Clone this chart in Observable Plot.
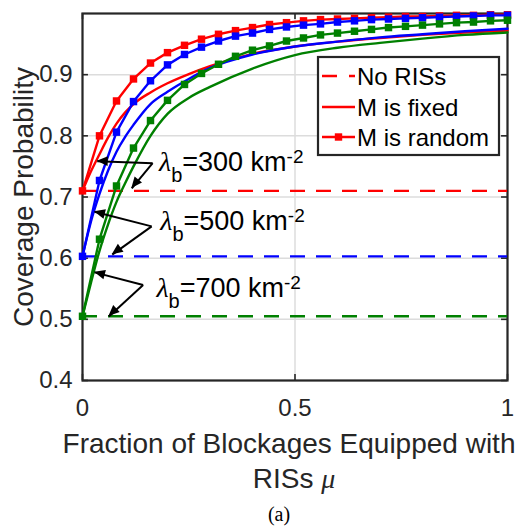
<!DOCTYPE html>
<html><head><meta charset="utf-8">
<script src="https://cdn.jsdelivr.net/npm/d3@7"></script>
<script src="https://cdn.jsdelivr.net/npm/@observablehq/plot@0.6"></script>
<style>body{margin:0;background:#fff}</style>
</head><body><div id="chart"></div>
<script>
// ---- data ----
const lambdas = ["300", "500", "700"];
const colors = ["#ff0000", "#0000ff", "#008000"];
const noRIS = [0.710, 0.603, 0.505];

const muRandom = [0, 0.04, 0.08, 0.12, 0.16, 0.20, 0.24, 0.28, 0.32, 0.36, 0.40, 0.44, 0.48,
  0.52, 0.56, 0.60, 0.64, 0.68, 0.72, 0.76, 0.80, 0.84, 0.88, 0.92, 0.96, 1.00];
const covRandom300 = [0.710, 0.800, 0.857, 0.893, 0.919, 0.936, 0.948, 0.958, 0.966, 0.972, 0.977, 0.982, 0.985,
  0.988, 0.990, 0.991, 0.992, 0.993, 0.994, 0.995, 0.995, 0.996, 0.997, 0.997, 0.998, 0.998];
const covRandom500 = [0.603, 0.727, 0.806, 0.856, 0.890, 0.916, 0.933, 0.945, 0.955, 0.963, 0.968, 0.974, 0.978,
  0.981, 0.983, 0.986, 0.988, 0.990, 0.991, 0.992, 0.993, 0.994, 0.995, 0.996, 0.997, 0.997];
const covRandom700 = [0.505, 0.631, 0.718, 0.780, 0.825, 0.858, 0.884, 0.902, 0.917, 0.930, 0.940, 0.947, 0.955,
  0.960, 0.965, 0.968, 0.971, 0.974, 0.977, 0.979, 0.981, 0.983, 0.985, 0.986, 0.988, 0.989];

const muFixed = [0, 0.02, 0.04, 0.06, 0.08, 0.10, 0.12, 0.16, 0.20, 0.25, 0.30, 0.40, 0.50, 0.60, 0.70, 0.80, 0.90, 1.00];
const covFixed300 = [0.710, 0.742, 0.770, 0.797, 0.820, 0.838, 0.852, 0.871, 0.886, 0.901, 0.914, 0.934, 0.946, 0.954, 0.960, 0.965, 0.969, 0.972];
const covFixed500 = [0.603, 0.660, 0.705, 0.743, 0.774, 0.798, 0.818, 0.852, 0.872, 0.893, 0.911, 0.933, 0.946, 0.954, 0.961, 0.966, 0.971, 0.975];
const covFixed700 = [0.505, 0.560, 0.612, 0.655, 0.692, 0.722, 0.750, 0.800, 0.836, 0.862, 0.880, 0.910, 0.932, 0.944, 0.952, 0.959, 0.965, 0.969];

const xTicks = [0, 0.5, 1];
const yTicks = [0.4, 0.5, 0.6, 0.7, 0.8, 0.9];
const legendLabels = ["No RISs", "M is fixed", "M is random"];

// annotations (data units)
const annotTextX = [0.180, 0.183, 0.174];
const annotTextY = [0.7420, 0.6455, 0.5360];
const arrowFromX = [0.165, 0.1627, 0.1427];
const arrowFromY = [0.7552, 0.6520, 0.5560];
const arrowTip1X = [0.0347, 0.0283, 0.0283];
const arrowTip1Y = [0.7584, 0.6758, 0.5768];
const arrowTip2X = [0.1160, 0.0700, 0.0620];
const arrowTip2Y = [0.7140, 0.6057, 0.5047];

// ---- tables ----
const covRandom = [covRandom300, covRandom500, covRandom700];
const covFixed = [covFixed300, covFixed500, covFixed700];
const arrows = [];
lambdas.forEach((l, i) => {
  arrows.push({x1: arrowFromX[i], y1: arrowFromY[i], x2: arrowTip1X[i], y2: arrowTip1Y[i]});
  arrows.push({x1: arrowFromX[i], y1: arrowFromY[i], x2: arrowTip2X[i], y2: arrowTip2Y[i]});
});
const annots = lambdas.map((l, i) => ({x: annotTextX[i], y: annotTextY[i], label: "λ|b|=" + l + " km|-2"}));

const axisColor = "#262626";
const lw = 2.4;
const marks = [
  Plot.gridX(xTicks, {stroke: "#dcdcdc", strokeOpacity: 1, strokeWidth: 1.5}),
  Plot.gridY(yTicks, {stroke: "#dcdcdc", strokeOpacity: 1, strokeWidth: 1.5}),
  Plot.frame({stroke: axisColor, strokeWidth: 2.2}),
  Plot.ruleX(xTicks, {x: d => d, y1: 0.4, y2: 0.41, stroke: axisColor, strokeWidth: 1.6}),
  Plot.ruleX(xTicks, {x: d => d, y1: 1.0, y2: 0.99, stroke: axisColor, strokeWidth: 1.6}),
  Plot.ruleY(yTicks, {y: d => d, x1: 0, x2: 0.014, stroke: axisColor, strokeWidth: 1.6}),
  Plot.ruleY(yTicks, {y: d => d, x1: 1, x2: 0.986, stroke: axisColor, strokeWidth: 1.6}),
  Plot.axisX({ticks: xTicks, tickSize: 0, tickPadding: 18, fontSize: 24, tickFormat: d => String(d), label: null, fill: axisColor}),
  Plot.axisY({ticks: yTicks, tickSize: 0, tickPadding: 10, fontSize: 24, tickFormat: d => String(d), label: null, fill: axisColor})
];
lambdas.forEach((l, i) => {
  const rnd = muRandom.map((m, j) => ({mu: m, cov: covRandom[i][j]}));
  const fix = muFixed.map((m, j) => ({mu: m, cov: covFixed[i][j]}));
  marks.push(
    Plot.ruleY([noRIS[i]], {y: d => d, stroke: colors[i], strokeWidth: lw, strokeDasharray: "15,11"}),
    Plot.line(fix, {x: "mu", y: "cov", stroke: colors[i], strokeWidth: lw, curve: "monotone-x"}),
    Plot.line(rnd, {x: "mu", y: "cov", stroke: colors[i], strokeWidth: lw}),
    Plot.dot(rnd, {x: "mu", y: "cov", symbol: "square", r: 4.2, fill: colors[i], stroke: "none"})
  );
});
marks.push(
  Plot.link(arrows, {x1: "x1", y1: "y1", x2: "x2", y2: "y2", stroke: "black", strokeWidth: 2}),
  Plot.text(annots, {x: "x", y: "y", text: "label", textAnchor: "start", lineAnchor: "bottom", fontSize: 27, fill: "black"}),
  Plot.text(["Coverage Probability"], {frameAnchor: "left", rotate: -90, dx: -50, lineAnchor: "bottom", textAnchor: "middle", fontSize: 28, fill: axisColor}),
  Plot.text(["Fraction of Blockages Equipped with"], {frameAnchor: "bottom", dx: -6, dy: 72, lineAnchor: "bottom", fontSize: 28, fill: axisColor}),
  Plot.text(["RISs|μ"], {frameAnchor: "bottom", dx: -1, dy: 107, lineAnchor: "bottom", fontSize: 28, fill: axisColor}),
  Plot.text(["(a)"], {frameAnchor: "bottom", dx: -16, dy: 140, lineAnchor: "bottom", fontSize: 20, fill: "black", fontFamily: "Liberation Serif, Times New Roman, serif"})
);

const svg = Plot.plot({
  width: 526, height: 529,
  marginLeft: 82, marginRight: 19, marginTop: 13, marginBottom: 149,
  x: {domain: [0, 1]},
  y: {domain: [0.4, 1.0]},
  style: {fontFamily: "Liberation Sans, Arial, Helvetica, sans-serif", background: "white", color: axisColor, overflow: "visible"},
  marks
});
document.getElementById("chart").appendChild(svg);

// ---- filled arrow heads, positioned with the plot's own scales ----
const sx = svg.scale("x"), sy = svg.scale("y");
const hg = d3.select(svg).append("g");
arrows.forEach(a => {
  const X1 = sx.apply(a.x1), Y1 = sy.apply(a.y1), X2 = sx.apply(a.x2), Y2 = sy.apply(a.y2);
  const ang = Math.atan2(Y2 - Y1, X2 - X1);
  const L = 11, W = 4.8;
  const bx = X2 - L * Math.cos(ang), by = Y2 - L * Math.sin(ang);
  const nx = -Math.sin(ang) * W, ny = Math.cos(ang) * W;
  hg.append("path").attr("d", `M${X2},${Y2}L${bx + nx},${by + ny}L${bx - nx},${by - ny}Z`).attr("fill", "black");
});

// ---- rich text post-processing ----
const serif = "Liberation Serif, DejaVu Serif, serif";
d3.select(svg).selectAll("text").each(function() {
  const t = d3.select(this);
  const s = this.textContent;
  if (s.startsWith("λ|")) {
    const p = s.split("|");
    t.text("");
    t.append("tspan").text(p[0]).attr("font-family", serif).attr("font-style", "italic").attr("font-size", 28);
    t.append("tspan").text(p[1]).attr("font-size", 20).attr("dy", 11);
    t.append("tspan").text(p[2]).attr("dy", -11);
    t.append("tspan").text(p[3]).attr("font-size", 19).attr("dy", -8);
  } else if (s === "RISs|μ") {
    t.text("");
    t.append("tspan").text("RISs ");
    t.append("tspan").text("μ").attr("font-family", serif).attr("font-style", "italic");
  }
});

// ---- legend ----
const lg = d3.select(svg).append("g").attr("text-anchor", "start");
lg.append("rect").attr("x", 318).attr("y", 57).attr("width", 181).attr("height", 98)
  .attr("fill", "white").attr("stroke", axisColor).attr("stroke-width", 2.2);
const rowY = [76, 107, 137];
legendLabels.forEach((lab, i) => {
  const line = lg.append("line").attr("x1", 322).attr("x2", 355).attr("y1", rowY[i]).attr("y2", rowY[i])
    .attr("stroke", colors[0]).attr("stroke-width", lw);
  if (i === 0) line.attr("stroke-dasharray", "15,12");
  if (i === 2) lg.append("rect").attr("x", 338.5 - 3.7).attr("y", rowY[i] - 3.7).attr("width", 7.4).attr("height", 7.4).attr("fill", colors[0]);
  lg.append("text").attr("x", 357).attr("y", rowY[i] + 8.5).attr("font-size", 24).attr("fill", "black")
    .attr("text-anchor", "start").text(lab);
});
</script>
</body></html>
